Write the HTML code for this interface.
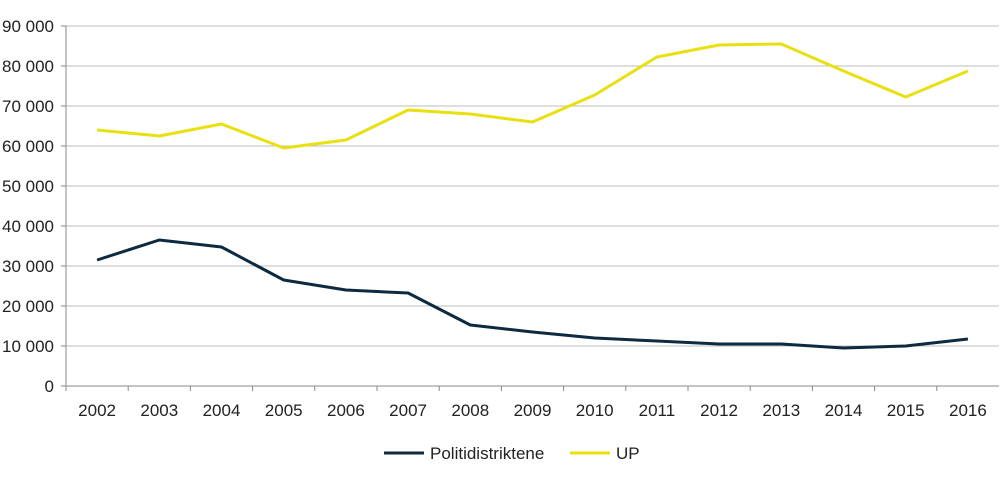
<!DOCTYPE html>
<html><head><meta charset="utf-8"><style>
body{margin:0;background:#fff;}
svg{display:block;font-family:"Liberation Sans",sans-serif;}
</style></head><body>
<svg id="chart" width="1000" height="478" viewBox="0 0 1000 478"></svg>
<script>
const categories=["2002","2003","2004","2005","2006","2007","2008","2009","2010","2011","2012","2013","2014","2015","2016"];
const politiValues=[31500,36500,34750,26500,24000,23250,15250,13500,12000,11250,10500,10500,9500,10000,11750];
const upValues=[64000,62500,65500,59500,61500,69000,68000,66000,72750,82250,85250,85500,78750,72250,78750];
const yTicks=[0,10000,20000,30000,40000,50000,60000,70000,80000,90000];
const yTickLabels=["0","10 000","20 000","30 000","40 000","50 000","60 000","70 000","80 000","90 000"];
const svg=document.getElementById('chart');
const NS='http://www.w3.org/2000/svg';
const x0=66,x1=999,yTop=26,yBot=386,yMax=90000;
const band=(x1-x0)/categories.length;
const xs=i=>x0+band*(i+0.5);
const ys=v=>yBot-(v/yMax)*(yBot-yTop);
function mk(tag,attrs){const e=document.createElementNS(NS,tag);for(const k in attrs)e.setAttribute(k,attrs[k]);svg.appendChild(e);return e;}
yTicks.forEach((t,i)=>{
  const g=mk('line',{x1:x0,x2:x1,y1:ys(t),y2:ys(t),stroke:t===0?'#888':'#bdbdbd','stroke-width':1});
  
  
  const tk=mk('line',{x1:x0-5,x2:x0,y1:ys(t),y2:ys(t),stroke:'#888'});
  
  
  const l=mk('text',{x:54,y:ys(t)+6,'text-anchor':'end','font-size':17,fill:'#222'});
  l.textContent=yTickLabels[i];
  
  
});
const ya=mk('line',{x1:x0,x2:x0,y1:yTop,y2:yBot,stroke:'#888'});


categories.forEach((c,i)=>{
  const tk=mk('line',{x1:x0+band*i,x2:x0+band*i,y1:yBot,y2:yBot+5,stroke:'#888'});
  
  
  const l=mk('text',{x:xs(i),y:416,'text-anchor':'middle','font-size':17,fill:'#222'});
  l.textContent=c;
  
  
});
function series(vals,color,name){
  const p=mk('polyline',{points:vals.map((v,i)=>xs(i)+','+ys(v)).join(' '),fill:'none',stroke:color,'stroke-width':3,'stroke-linejoin':'round'});
  
  
}
series(upValues,'#e8e010','line-up');
series(politiValues,'#0d2a40','line-politidistriktene');
function legend(x,color,label,name){
  const l=mk('line',{x1:x,x2:x+40,y1:453,y2:453,stroke:color,'stroke-width':3});
  
  
  const t=mk('text',{x:x+46,y:459,'font-size':17,fill:'#222'});
  t.textContent=label;
  
  
}
legend(384,'#0d2a40','Politidistriktene','legend-politidistriktene');
legend(570,'#e8e010','UP','legend-up');
</script>
</body></html>
